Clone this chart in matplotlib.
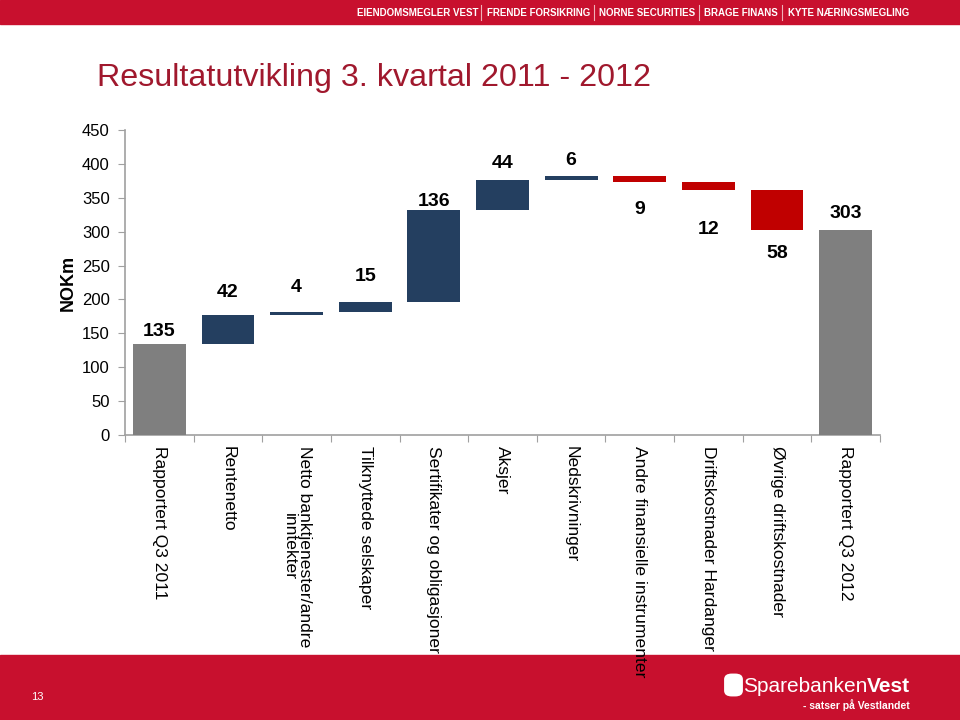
import matplotlib
matplotlib.use("Agg")
import matplotlib.pyplot as plt
from matplotlib.patches import Rectangle, FancyBboxPatch
import numpy as np

plt.rcParams['font.family'] = ['Liberation Sans', 'DejaVu Sans']

categories = ["Rapportert Q3 2011", "Rentenetto", "Netto banktjenester/andre\ninntekter",
              "Tilknyttede selskaper", "Sertifikater og obligasjoner", "Aksjer",
              "Nedskrivninger", "Andre finansielle instrumenter", "Driftskostnader Hardanger",
              "Øvrige driftskostnader", "Rapportert Q3 2012"]
changes = [135, 42, 4, 15, 136, 44, 6, -9, -12, -58, 303]
kinds = ["total", "delta", "delta", "delta", "delta", "delta", "delta", "delta", "delta", "delta", "total"]
y_ticks = [0, 50, 100, 150, 200, 250, 300, 350, 400, 450]
# label offsets (data units) from bar end, layout only
label_offset = [17, 33, 37, 38, 12, 24, 23, -41, -58, -35, 24]

GREY = "#7F7F7F"
NAVY = "#243F60"
RED = "#C00000"
BRAND = "#C8102E"

fig = plt.figure(figsize=(9.6, 7.2), dpi=100)
ax = fig.add_axes([125/960, 285/720, 755/960, 305/720])

running = 0
x = np.arange(len(categories))
for i, (v, k) in enumerate(zip(changes, kinds)):
    if k == "total":
        bottom, height, color = 0, v, GREY
        running = v
        end = v
    else:
        if v >= 0:
            bottom, height, color = running, v, NAVY
            end = running + v
        else:
            bottom, height, color = running + v, -v, RED
            end = running + v
        running += v
    ax.bar(x[i], height, bottom=bottom, width=0.77, color=color, zorder=3)
    ax.text(x[i], end + label_offset[i], f"{abs(v)}", ha="center", va="center",
            fontsize=14, fontweight="bold", color="black")

ax.set_xlim(-0.5, len(categories) - 0.5)
ax.set_ylim(0, 450)
ax.set_yticks(y_ticks)
ax.tick_params(axis="y", labelsize=12, length=5, color="#A0A0A0", pad=6)
ax.set_xticks(np.arange(-0.5, len(categories), 1.0))
ax.set_xticklabels([])
ax.tick_params(axis="x", length=5, color="#A0A0A0")
for s in ["top", "right"]:
    ax.spines[s].set_visible(False)
for s in ["left", "bottom"]:
    ax.spines[s].set_color("#A0A0A0")
    ax.spines[s].set_linewidth(1.2)

for i, c in enumerate(categories):
    ax.text(x[i], -16, c, rotation=-90, ha="center", va="top", fontsize=12.6,
            multialignment="center", linespacing=1.0)

fig.text(68/960, 1 - 283/720, "NOKm", rotation=90, ha="center", va="center",
         fontsize=13, fontweight="bold")

fig.text(97/960, 1 - 78/720, "Resultatutvikling 3. kvartal 2011 - 2012", ha="left", va="center",
         fontsize=23.2, color="#A0182D")

# header band
fig.add_artist(Rectangle((0, 1 - 24/720), 1, 24/720, transform=fig.transFigure,
                         color=BRAND, zorder=0))
header = ["EIENDOMSMEGLER VEST", "FRENDE FORSIKRING", "NORNE SECURITIES", "BRAGE FINANS",
          "KYTE NÆRINGSMEGLING"]
hx = [357, 487, 599, 704, 788]
seps = [481, 594, 699, 782]
for t, px in zip(header, hx):
    fig.text(px/960, 1 - 12.5/720, t, ha="left", va="center", fontsize=7.0,
             fontweight="bold", color="white")
for sx in seps:
    fig.add_artist(plt.Line2D([sx/960, sx/960], [1 - 20/720, 1 - 5/720],
                              transform=fig.transFigure, color="#F0B0B8", lw=0.8))

# footer band
fig.add_artist(Rectangle((0, 0), 1, 65/720, transform=fig.transFigure, color=BRAND, zorder=0))
fig.text(37/960, 23/720, "13", ha="center", va="center", fontsize=8, color="white")
fig.text(867/960, 34/720, "Sparebanken", ha="right", va="center", fontsize=15,
         color="white")
fig.text(867/960, 34/720, "Vest", ha="left", va="center", fontsize=15,
         color="white", fontweight="bold")
fig.text(910/960, 15/720, "- satser på Vestlandet", ha="right", va="center", fontsize=7.5,
         color="white", fontweight="bold")
fig.add_artist(FancyBboxPatch((726/960, 25/720), 15/960, 20/720, transform=fig.transFigure,
                              boxstyle="round,pad=0.002,rounding_size=0.008",
                              facecolor="white", edgecolor="none", zorder=2))

fig.savefig("out.png", dpi=100)
